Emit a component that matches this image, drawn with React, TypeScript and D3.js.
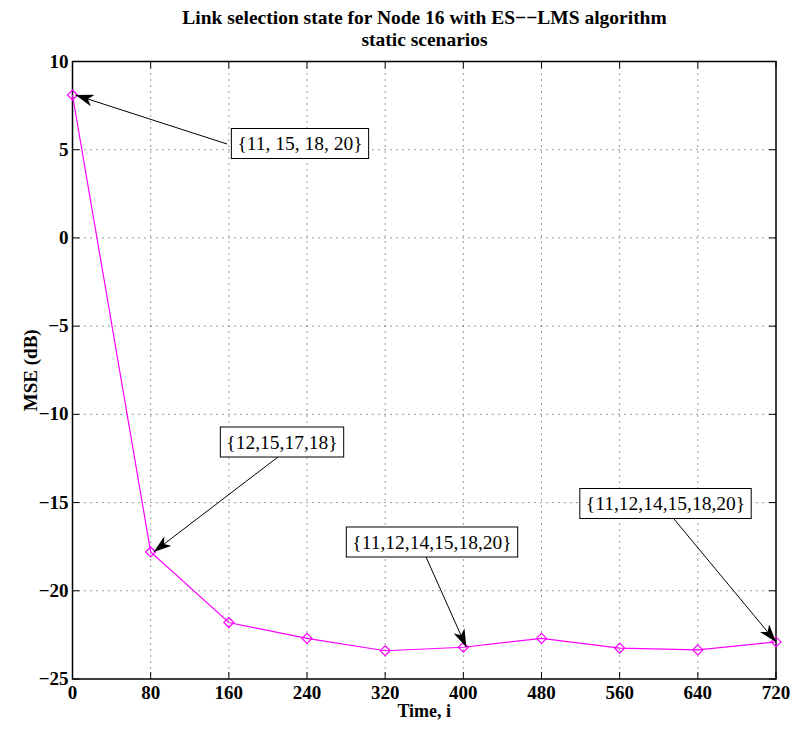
import React, { useEffect, useRef } from "react";
import * as d3 from "d3";

// series
const times = [0, 80, 160, 240, 320, 400, 480, 560, 640, 720];
const mseDb = [8.1, -17.8, -21.8, -22.7, -23.4, -23.2, -22.7, -23.25, -23.35, -22.9];
const xTicks = [0, 80, 160, 240, 320, 400, 480, 560, 640, 720];
const yTicks = [10, 5, 0, -5, -10, -15, -20, -25];

// annotations: text + which point it points at
const noteLabels = ["{11, 15, 18, 20}", "{12,15,17,18}", "{11,12,14,15,18,20}", "{11,12,14,15,18,20}"];
const noteTargets = [0, 1, 5, 9];
// box centre (px) and arrow tail (px)
const noteBox = [[300, 143.5], [282, 442], [432, 542], [665.5, 503.5]];
const noteTail = [[227, 144], [278, 457], [426, 557], [674, 519]];

const W = 792, H = 729;
const m = { left: 72.5, right: 776, top: 61.5, bottom: 679 };
const font = "'Liberation Serif', 'Times New Roman', serif";

export default function App() {
  const ref = useRef<SVGSVGElement>(null);

  useEffect(() => {
    const svg = d3.select(ref.current);
    svg.selectAll("*").remove();

    const x = d3.scaleLinear().domain([0, 720]).range([m.left, m.right]);
    const y = d3.scaleLinear().domain([-25, 10]).range([m.bottom, m.top]);

    svg.append("rect").attr("width", W).attr("height", H).attr("fill", "#fff");

    const defs = svg.append("defs");
    defs.append("marker")
      .attr("id", "ah")
      .attr("viewBox", "0 0 18 12")
      .attr("refX", 18).attr("refY", 6)
      .attr("markerWidth", 18).attr("markerHeight", 12)
      .attr("markerUnits", "userSpaceOnUse")
      .attr("orient", "auto")
      .append("path")
      .attr("d", "M0,0 L18,6 L0,12 L5,6 Z")
      .attr("fill", "#000");

    // grid
    const g = svg.append("g");
    g.selectAll("line.gx").data(xTicks.slice(1, -1)).join("line")
      .attr("x1", d => x(d)).attr("x2", d => x(d))
      .attr("y1", m.top).attr("y2", m.bottom)
      .attr("stroke", "#333").attr("stroke-width", 1).attr("stroke-dasharray", "1,5");
    g.selectAll("line.gy").data(yTicks.slice(1, -1)).join("line")
      .attr("y1", d => y(d)).attr("y2", d => y(d))
      .attr("x1", m.left).attr("x2", m.right)
      .attr("stroke", "#333").attr("stroke-width", 1).attr("stroke-dasharray", "1,5");

    // ticks (inside, all four sides)
    const tk = svg.append("g").attr("stroke", "#000").attr("stroke-width", 1);
    xTicks.forEach(t => {
      tk.append("line").attr("x1", x(t)).attr("x2", x(t)).attr("y1", m.bottom).attr("y2", m.bottom - 7);
      tk.append("line").attr("x1", x(t)).attr("x2", x(t)).attr("y1", m.top).attr("y2", m.top + 7);
    });
    yTicks.forEach(t => {
      tk.append("line").attr("y1", y(t)).attr("y2", y(t)).attr("x1", m.left).attr("x2", m.left + 7);
      tk.append("line").attr("y1", y(t)).attr("y2", y(t)).attr("x1", m.right).attr("x2", m.right - 7);
    });

    svg.append("rect")
      .attr("x", m.left).attr("y", m.top)
      .attr("width", m.right - m.left).attr("height", m.bottom - m.top)
      .attr("fill", "none").attr("stroke", "#000").attr("stroke-width", 1.5);

    // tick labels
    svg.append("g").selectAll("text").data(xTicks).join("text")
      .attr("x", d => x(d)).attr("y", m.bottom + 20)
      .attr("text-anchor", "middle")
      .attr("font-family", font).attr("font-weight", "bold").attr("font-size", 19)
      .text(d => String(d));
    svg.append("g").selectAll("text").data(yTicks).join("text")
      .attr("x", m.left - 4).attr("y", d => y(d) + 6)
      .attr("text-anchor", "end")
      .attr("font-family", font).attr("font-weight", "bold").attr("font-size", 19)
      .text(d => (d < 0 ? "\u2212" + Math.abs(d) : String(d)));

    // axis labels + title
    svg.append("text").attr("x", (m.left + m.right) / 2).attr("y", 717)
      .attr("text-anchor", "middle").attr("font-family", font).attr("font-weight", "bold").attr("font-size", 18)
      .text("Time, i");
    svg.append("text")
      .attr("transform", `translate(37,${(m.top + m.bottom) / 2}) rotate(-90)`)
      .attr("text-anchor", "middle").attr("font-family", font).attr("font-weight", "bold").attr("font-size", 19)
      .text("MSE (dB)");
    const title = svg.append("text").attr("text-anchor", "middle")
      .attr("font-family", font).attr("font-weight", "bold").attr("font-size", 19.5);
    title.append("tspan").attr("x", 424.5).attr("y", 24)
      .text("Link selection state for Node 16 with ES\u2212\u2212LMS algorithm");
    title.append("tspan").attr("x", 424.5).attr("y", 46)
      .text("static scenarios");

    // series
    const line = d3.line<number>().x((_, i) => x(times[i])).y(d => y(d));
    svg.append("path").datum(mseDb).attr("d", line)
      .attr("fill", "none").attr("stroke", "#ff00ff").attr("stroke-width", 1.2);
    svg.append("g").selectAll("path").data(mseDb).join("path")
      .attr("transform", (d, i) => `translate(${x(times[i])},${y(d)})`)
      .attr("d", "M0,-5 L5,0 L0,5 L-5,0 Z")
      .attr("fill", "none").attr("stroke", "#ff00ff").attr("stroke-width", 1.2);

    // annotations
    noteLabels.forEach((lab, k) => {
      const [cx, cy] = noteBox[k];
      const [tx, ty] = noteTail[k];
      const i = noteTargets[k];
      svg.append("line")
        .attr("x1", tx).attr("y1", ty)
        .attr("x2", x(times[i]) + (i === 9 ? 0 : 3)).attr("y2", y(mseDb[i]))
        .attr("stroke", "#000").attr("stroke-width", 1)
        .attr("marker-end", "url(#ah)");
      const t = svg.append("text").attr("x", cx).attr("y", cy + 6.5)
        .attr("text-anchor", "middle").attr("font-family", font).attr("font-size", 19.5)
        .text(lab);
      const bb = (t.node() as SVGTextElement).getBBox();
      svg.insert("rect", () => t.node() as any)
        .attr("x", bb.x - 6).attr("y", cy - 15)
        .attr("width", bb.width + 12).attr("height", 30)
        .attr("fill", "#fff").attr("stroke", "#000").attr("stroke-width", 1);
    });
  }, []);

  return <svg ref={ref} width={W} height={H} style={{ position: "absolute", left: 0, top: 0 }} />;
}
